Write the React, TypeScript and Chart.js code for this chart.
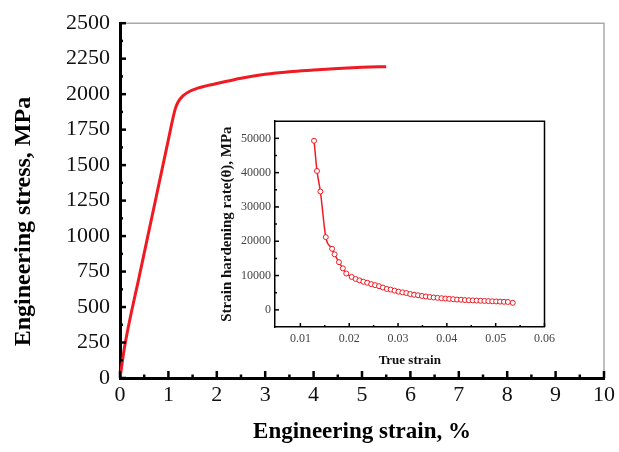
import { useEffect, useRef } from 'react';
import { Chart, registerables } from 'chart.js';

Chart.register(...registerables);

// Main curve: engineering strain (%) vs engineering stress (MPa)
const mainStrain = [0, 0.1, 0.4, 0.7, 1.0, 1.1, 1.15, 1.2, 1.3, 1.45, 1.6, 1.8, 2.0, 2.5, 3.0, 3.5, 4.0, 4.5, 5.0, 5.5];
const mainStress = [0, 230, 720, 1200, 1680, 1840, 1905, 1945, 1988, 2022, 2042, 2060, 2075, 2112, 2140, 2158, 2170, 2181, 2189, 2194];
const mainXTicks = [0, 1, 2, 3, 4, 5, 6, 7, 8, 9, 10];
const mainYTicks = [0, 250, 500, 750, 1000, 1250, 1500, 1750, 2000, 2250, 2500];

// Inset: true strain vs strain hardening rate (MPa)
const insetStrain = [
  0.0128, 0.0134, 0.0141, 0.0152, 0.0165, 0.0170, 0.0179, 0.0187, 0.0194, 0.0205,
  0.0213, 0.0221, 0.0229, 0.0237, 0.0245, 0.0253, 0.0261, 0.0269, 0.0277, 0.0285,
  0.0293, 0.0301, 0.0309, 0.0317, 0.0325, 0.0333, 0.0341, 0.0349, 0.0357, 0.0365,
  0.0373, 0.0381, 0.0389, 0.0397, 0.0405, 0.0413, 0.0421, 0.0429, 0.0437, 0.0445,
  0.0453, 0.0461, 0.0469, 0.0477, 0.0485, 0.0493, 0.0501, 0.0509, 0.0517, 0.0525, 0.0535,
];
const insetRate = [
  49300, 40500, 34500, 21200, 17800, 16200, 13900, 12100, 10600, 9600,
  9000, 8600, 8200, 7900, 7500, 7200, 6900, 6500, 6100, 5900,
  5600, 5300, 5100, 4900, 4600, 4400, 4250, 4050, 3900, 3750,
  3600, 3500, 3400, 3300, 3200, 3100, 3000, 2950, 2850, 2800,
  2750, 2700, 2650, 2600, 2550, 2500, 2450, 2400, 2350, 2300, 2050,
];
const insetXTicks = [0.01, 0.02, 0.03, 0.04, 0.05, 0.06];
const insetYTicks = [0, 10000, 20000, 30000, 40000, 50000];

const SERIF = '"Liberation Serif", "DejaVu Serif", serif';
const RED = '#f01a22';

function mids(arr: number[]) {
  const out: number[] = [];
  for (let i = 0; i < arr.length - 1; i++) out.push((arr[i] + arr[i + 1]) / 2);
  return out;
}

const inTicksPlugin = {
  id: 'inTicks',
  afterDraw(chart: any) {
    const o = chart.options.plugins.inTicks;
    if (!o) return;
    const { ctx, chartArea: a, scales } = chart;
    const xs = scales.x;
    const ys = scales.y;
    ctx.save();
    ctx.strokeStyle = o.frameColor;
    ctx.lineWidth = o.frameWidth;
    ctx.beginPath();
    ctx.moveTo(a.left, a.top);
    ctx.lineTo(a.right, a.top);
    ctx.lineTo(a.right, a.bottom);
    ctx.stroke();
    ctx.strokeStyle = '#000';
    ctx.lineWidth = o.tickWidth;
    ctx.lineCap = 'butt';
    const drawX = (vals: number[], len: number) => {
      vals.forEach((v) => {
        const px = xs.getPixelForValue(v);
        ctx.beginPath();
        ctx.moveTo(px, a.bottom);
        ctx.lineTo(px, a.bottom - len);
        ctx.stroke();
      });
    };
    const drawY = (vals: number[], len: number) => {
      vals.forEach((v) => {
        const py = ys.getPixelForValue(v);
        ctx.beginPath();
        ctx.moveTo(a.left, py);
        ctx.lineTo(a.left + len, py);
        ctx.stroke();
      });
    };
    drawX(o.xMajor, o.majorX);
    drawX(mids(o.xMajor), o.minorX);
    drawY(o.yMajor, o.majorY);
    drawY(mids(o.yMajor), o.minorY);
    ctx.restore();
  },
};

export default function App() {
  const mainRef = useRef<HTMLCanvasElement>(null);
  const insetRef = useRef<HTMLCanvasElement>(null);

  useEffect(() => {
    const mainChart = new Chart(mainRef.current!, {
      type: 'line',
      data: {
        datasets: [
          {
            data: mainStrain.map((x, i) => ({ x, y: mainStress[i] })),
            borderColor: RED,
            borderWidth: 3,
            pointRadius: 0,
            fill: false,
            cubicInterpolationMode: 'monotone',
          },
        ],
      },
      options: {
        animation: false,
        responsive: false,
        layout: { padding: { top: 22, right: 14, left: 0, bottom: 0 } },
        plugins: {
          legend: { display: false },
          tooltip: { enabled: false },
          inTicks: {
            frameColor: '#aaaaaa',
            frameWidth: 1.5,
            tickWidth: 2.5,
            xMajor: mainXTicks,
            yMajor: mainYTicks,
            majorX: 7,
            minorX: 3.5,
            majorY: 6,
            minorY: 3,
          },
        } as any,
        scales: {
          x: {
            type: 'linear',
            min: 0,
            max: 10,
            afterBuildTicks: (s: any) => {
              s.ticks = mainXTicks.map((v) => ({ value: v }));
            },
            afterFit: (s: any) => {
              s.height = 74;
            },
            grid: { display: false, drawTicks: false },
            border: { display: true, color: '#000', width: 3 },
            ticks: {
              padding: 4,
              color: '#111',
              font: { family: SERIF, size: 22 },
              maxRotation: 0,
              callback: (v: any) => String(v),
            },
            title: {
              display: true,
              text: 'Engineering strain, %',
              color: '#000',
              font: { family: SERIF, size: 23, weight: 'bold' },
              padding: { top: 0, bottom: 6 },
            },
          },
          y: {
            type: 'linear',
            min: 0,
            max: 2500,
            afterBuildTicks: (s: any) => {
              s.ticks = mainYTicks.map((v) => ({ value: v }));
            },
            afterFit: (s: any) => {
              s.width = 120;
            },
            grid: { display: false, drawTicks: false },
            border: { display: true, color: '#000', width: 3 },
            ticks: {
              padding: 10,
              color: '#111',
              font: { family: SERIF, size: 22 },
              callback: (v: any) => String(v),
            },
            title: {
              display: true,
              text: 'Engineering stress, MPa       ',
              color: '#000',
              font: { family: SERIF, size: 24, weight: 'bold' },
              padding: { top: 9, bottom: 0 },
            },
          },
        },
      },
      plugins: [inTicksPlugin],
    } as any);

    const insetChart = new Chart(insetRef.current!, {
      type: 'line',
      data: {
        datasets: [
          {
            data: insetStrain.map((x, i) => ({ x, y: insetRate[i] })),
            borderColor: RED,
            borderWidth: 1.5,
            pointRadius: 2.5,
            pointStyle: 'circle',
            pointBorderColor: RED,
            pointBackgroundColor: '#ffffff',
            pointBorderWidth: 1,
            fill: false,
            cubicInterpolationMode: 'monotone',
          },
        ],
      },
      options: {
        animation: false,
        responsive: false,
        layout: { padding: { top: 9, right: 13, left: 0, bottom: 0 } },
        plugins: {
          legend: { display: false },
          tooltip: { enabled: false },
          inTicks: {
            frameColor: '#000',
            frameWidth: 1.5,
            tickWidth: 1.5,
            xMajor: insetXTicks,
            yMajor: insetYTicks,
            majorX: 4,
            minorX: 2,
            majorY: 4,
            minorY: 2,
          },
        } as any,
        scales: {
          x: {
            type: 'linear',
            min: 0.0048,
            max: 0.06,
            afterBuildTicks: (s: any) => {
              s.ticks = insetXTicks.map((v) => ({ value: v }));
            },
            afterFit: (s: any) => {
              s.height = 43;
            },
            grid: { display: false, drawTicks: false },
            border: { display: true, color: '#000', width: 1.5 },
            ticks: {
              padding: 5,
              color: '#444',
              font: { family: SERIF, size: 12 },
              maxRotation: 0,
              callback: (v: any) => Number(v).toFixed(2),
            },
            title: {
              display: true,
              text: 'True strain',
              color: '#111',
              font: { family: SERIF, size: 13, weight: 'bold' },
              padding: { top: 0, bottom: 2 },
            },
          },
          y: {
            type: 'linear',
            min: -5000,
            max: 55000,
            afterBuildTicks: (s: any) => {
              s.ticks = insetYTicks.map((v) => ({ value: v }));
            },
            afterFit: (s: any) => {
              s.width = 60;
            },
            grid: { display: false, drawTicks: false },
            border: { display: true, color: '#000', width: 1.5 },
            ticks: {
              padding: 4,
              color: '#444',
              font: { family: SERIF, size: 12 },
              callback: (v: any) => String(v),
            },
            title: {
              display: true,
              text: 'Strain hardening rate(θ), MPa',
              color: '#111',
              font: { family: SERIF, size: 15, weight: 'bold' },
              padding: { top: 3, bottom: 0 },
            },
          },
        },
      },
      plugins: [inTicksPlugin],
    } as any);

    return () => {
      mainChart.destroy();
      insetChart.destroy();
    };
  }, []);

  return (
    <div style={{ position: 'fixed', left: 0, top: 0, width: 619, height: 452, background: '#fff' }}>
      <canvas ref={mainRef} width={619} height={452} style={{ position: 'absolute', left: 0, top: 0 }} />
      <canvas ref={insetRef} width={345} height={260} style={{ position: 'absolute', left: 215, top: 110 }} />
    </div>
  );
}
